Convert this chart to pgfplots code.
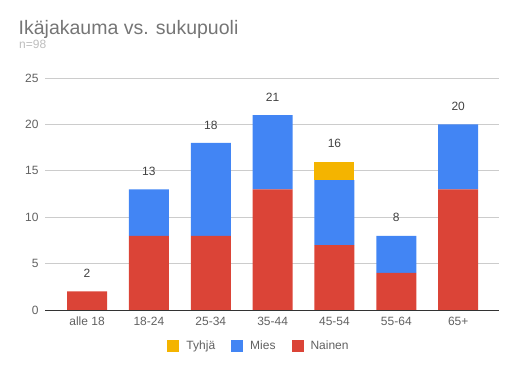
\documentclass[border=0pt]{standalone}
\usepackage{fontspec}
\setmainfont{Liberation Sans}
\usepackage{pgfplots}
\pgfplotsset{compat=1.18}
\definecolor{cred}{HTML}{DB4437}
\definecolor{cblue}{HTML}{4285F4}
\definecolor{cyellow}{HTML}{F4B400}
\definecolor{titlegray}{HTML}{757575}
\definecolor{subgray}{HTML}{BDBDBD}
\definecolor{labgray}{HTML}{616161}
\definecolor{valgray}{HTML}{424242}
\definecolor{gridgray}{HTML}{CCCCCC}
\pgfplotsset{
  common/.style={
    at={(45pt,61pt)}, anchor=south west,
    scale only axis, width=454pt, height=232pt,
    xmin=-0.68, xmax=6.66, ymin=0, ymax=25,
  }
}
\begin{document}
\begin{tikzpicture}
\path[use as bounding box] (0,0) rectangle (518pt,371pt);
\node[anchor=base west, font=\fontsize{19.5}{22}\selectfont, text=titlegray, inner sep=0pt] at (18.5pt,336pt) {Ikäjakauma vs. sukupuoli};
\node[anchor=base west, font=\fontsize{12}{14}\selectfont, text=subgray, inner sep=0pt] at (19pt,322pt) {n=98};
\begin{axis}[
  common,
  ybar stacked, bar width=40pt,
  xtick={0,...,6}, xticklabels={alle 18,18-24,25-34,35-44,45-54,55-64,65+},
  ytick={0,5,...,25},
  axis x line*=bottom, axis y line*=left,
  x axis line style={-, draw=black!80, line width=0.8pt},
  y axis line style={draw=none},
  major tick length=0pt,
  ymajorgrids, grid style={gridgray, line width=0.6pt},
  ticklabel style={font=\fontsize{12}{14}\selectfont, text=labgray},
  xticklabel style={yshift=-3.4pt},
  yticklabel style={xshift=-3pt},
  /pgf/number format/assume math mode=true,
  reverse legend, legend columns=3,
  legend style={at={(axis description cs:0.4714,-0.155)}, anchor=center, draw=none,
    font=\fontsize{12}{14}\selectfont, text=labgray,
    /tikz/every even column/.append style={column sep=14pt},
    /tikz/every odd column/.append style={column sep=5pt}},
]
\addplot[fill=cred, draw=none, legend image code/.code={\fill[cred] (0pt,-6pt) rectangle (12pt,6pt);}]
  table {
x y
0 2
1 8
2 8
3 13
4 7
5 4
6 13
};
\addlegendentry{Nainen}
\addplot[fill=cblue, draw=none, legend image code/.code={\fill[cblue] (0pt,-6pt) rectangle (12pt,6pt);}]
  table {
x y
0 0
1 5
2 10
3 8
4 7
5 4
6 7
};
\addlegendentry{Mies}
\addplot[fill=cyellow, draw=none, legend image code/.code={\fill[cyellow] (0pt,-6pt) rectangle (12pt,6pt);}]
  table {
x y
0 0
1 0
2 0
3 0
4 2
5 0
6 0
};
\addlegendentry{Tyhjä}
\end{axis}
\begin{axis}[common, hide axis,
  /pgf/number format/assume math mode=true]
\addplot[draw=none, mark=none, nodes near coords,
  every node near coord/.append style={font=\fontsize{12}{14}\selectfont, text=valgray, anchor=center, yshift=18pt}]
  table {
x y
0 2
1 13
2 18
3 21
4 16
5 8
6 20
};
\end{axis}
\end{tikzpicture}
\end{document}
